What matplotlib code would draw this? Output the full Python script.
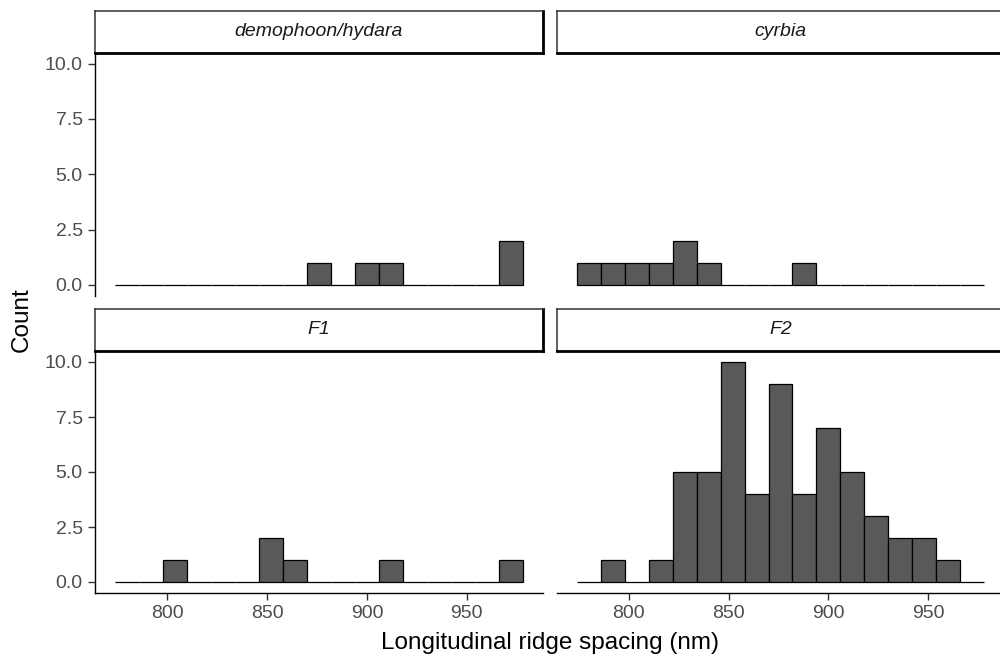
import numpy as np
import matplotlib
matplotlib.use("Agg")
import matplotlib.pyplot as plt

plt.rcParams['font.family'] = ['Liberation Sans', 'DejaVu Sans']

# bins shared by all facets
bin_start = 774.0
bin_width = 12.0
n_bins = 17

facets = ["demophoon/hydara", "cyrbia", "F1", "F2"]
counts_demophoon = [0, 0, 0, 0, 0, 0, 0, 0, 1, 0, 1, 1, 0, 0, 0, 0, 2]
counts_cyrbia = [1, 1, 1, 1, 2, 1, 0, 0, 0, 1, 0, 0, 0, 0, 0, 0, 0]
counts_f1 = [0, 0, 1, 0, 0, 0, 2, 1, 0, 0, 0, 1, 0, 0, 0, 0, 1]
counts_f2 = [0, 1, 0, 1, 5, 5, 10, 4, 9, 4, 7, 5, 3, 2, 2, 1, 0]
all_counts = [counts_demophoon, counts_cyrbia, counts_f1, counts_f2]

x_ticks = [800, 850, 900, 950]
y_ticks = [0, 2.5, 5.0, 7.5, 10.0]

edges = bin_start + bin_width * np.arange(n_bins + 1)
lo, hi = edges[0], edges[-1]
pad = 0.05 * (hi - lo)

W, H = 1000, 665
fig = plt.figure(figsize=(W / 100, H / 100), dpi=100)

# panel geometry in pixels (left, top, width, height)
px_left = [95, 556.5]
px_w = 448
px_top = [52.5, 351]
px_h = [243.5, 242]
strip_h = 42

tick_col = "#4D4D4D"
for i, (name, counts) in enumerate(zip(facets, all_counts)):
    r, c = divmod(i, 2)
    l = px_left[c]; t = px_top[r]; h = px_h[r]
    ax = fig.add_axes([l / W, 1 - (t + h) / H, px_w / W, h / H])
    ax.bar(edges[:-1], counts, width=bin_width, align="edge",
           color="#595959", edgecolor="black", linewidth=0.9)
    ax.set_xlim(lo - pad, hi + pad)
    ax.set_ylim(-0.5, 10.5)
    ax.set_xticks(x_ticks)
    ax.set_yticks(y_ticks)
    ax.set_yticklabels([f"{v:.1f}" for v in y_ticks])
    for s in ["top", "right"]:
        ax.spines[s].set_visible(False)
    ax.spines["left"].set_linewidth(1.0)
    ax.spines["bottom"].set_linewidth(1.0)
    ax.tick_params(colors="#333333", labelcolor=tick_col, labelsize=14,
                   length=4.8, width=1.0, pad=4)
    if r == 0:
        ax.spines["bottom"].set_visible(False)
        ax.tick_params(axis="x", bottom=False, labelbottom=False)
    if c == 1:
        ax.spines["left"].set_visible(False)
        ax.tick_params(axis="y", left=False, labelleft=False)

    # strip
    sax = fig.add_axes([l / W, 1 - t / H, px_w / W, strip_h / H])
    sax.set_xticks([]); sax.set_yticks([])
    for s in ["top", "left"]:
        sax.spines[s].set_linewidth(1.1)
        sax.spines[s].set_color("#333333")
    for s in ["bottom", "right"]:
        sax.spines[s].set_linewidth(2.0)
        sax.spines[s].set_color("black")
    sax.text(0.5, 0.5, name, ha="center", va="center", style="italic",
             fontsize=14, color="#1A1A1A", transform=sax.transAxes)

fig.text(550 / W, 1 - 643 / H, "Longitudinal ridge spacing (nm)",
         ha="center", va="center", fontsize=17.5)
fig.text(22 / W, 1 - 320 / H, "Count", ha="center", va="center",
         rotation=90, fontsize=17.5)

fig.savefig("out.png", dpi=100)
